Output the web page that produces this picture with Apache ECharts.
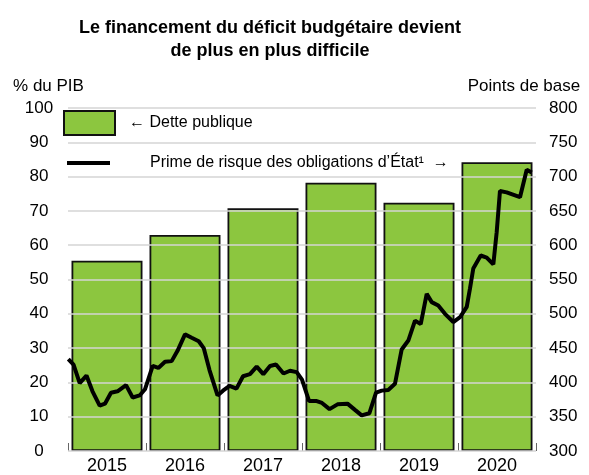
<!DOCTYPE html>
<html>
<head>
<meta charset="utf-8">
<script src="https://cdn.jsdelivr.net/npm/echarts@6/dist/echarts.min.js"></script>
<style>
html,body{margin:0;padding:0;background:#fff;}
#chart{width:589px;height:475px;}
</style>
</head>
<body>
<div id="chart"></div>
<script>
const titleText = 'Le financement du déficit budgétaire devient\nde plus en plus difficile';
const years = ['2015', '2016', '2017', '2018', '2019', '2020'];
const debtName = 'Dette publique';
const debtPctGDP = [55.5, 63.0, 70.8, 78.2, 72.4, 84.2];
const spreadName = 'Prime de risque des obligations d’État¹';
const spreadTime = [
  2015.004, 2015.071, 2015.150, 2015.237, 2015.314, 2015.406, 2015.474, 2015.551, 2015.635, 2015.744, 2015.829, 2015.919, 2015.987,
  2016.086, 2016.158, 2016.244, 2016.329, 2016.404, 2016.500, 2016.586, 2016.676, 2016.740, 2016.814, 2016.917, 2016.987,
  2017.071, 2017.160, 2017.244, 2017.333, 2017.419, 2017.504, 2017.590, 2017.667, 2017.763, 2017.846, 2017.932,
  2018.000, 2018.090, 2018.179, 2018.256, 2018.353, 2018.455, 2018.583, 2018.679, 2018.765, 2018.863, 2018.949,
  2019.022, 2019.106, 2019.192, 2019.278, 2019.363, 2019.449, 2019.522, 2019.599, 2019.663, 2019.747, 2019.833, 2019.940,
  2020.026, 2020.112, 2020.154, 2020.196, 2020.291, 2020.368, 2020.453, 2020.496, 2020.538, 2020.624, 2020.795, 2020.881, 2020.945
];
const spreadBp = [
  434, 426, 399, 410, 387, 366, 369, 385, 387, 396, 378, 381, 390,
  424, 421, 430, 431, 446, 470, 465, 460, 450, 418, 381, 388,
  395, 391, 409, 412, 423, 412, 424, 426, 413, 417, 415,
  404, 373, 373, 370, 361, 368, 369, 360, 352, 355, 385,
  388, 389, 398, 448, 461, 490, 485, 529, 517, 512, 500, 488,
  495, 510, 537, 566, 585, 582, 572, 619, 679, 677, 670, 710, 706
];
const leftTicks = {min: 0, max: 100, interval: 10};
const rightTicks = {min: 300, max: 800, interval: 50};
const leftAxisName = '% du PIB';
const rightAxisName = 'Points de base';

const FONT = '"Liberation Sans", Arial, sans-serif';
const chart = echarts.init(document.getElementById('chart'), null, {renderer: 'canvas'});
chart.setOption({
  animation: false,
  backgroundColor: '#fff',
  textStyle: {fontFamily: FONT},
  title: {
    text: titleText,
    left: 265,
    top: 12,
    textAlign: 'center',
    padding: 5,
    textStyle: {fontFamily: FONT, fontSize: 18, fontWeight: 'bold', color: '#000', lineHeight: 23}
  },
  legend: [
    {
      data: [debtName],
      left: 63, top: 110, padding: 0,
      icon: 'rect',
      itemWidth: 51, itemHeight: 24,
      formatter: '← {name}',
      textStyle: {fontFamily: FONT, fontSize: 16, color: '#000', padding: [0, 0, 0, 9]}
    },
    {
      data: [spreadName],
      left: 67, top: 155, padding: 0,
      icon: 'rect',
      itemWidth: 43, itemHeight: 4,
      formatter: '{name}  →',
      textStyle: {fontFamily: FONT, fontSize: 16, color: '#000', padding: [0, 0, 0, 35]}
    }
  ],
  grid: {left: 68, right: 53, top: 108, bottom: 20, containLabel: false},
  xAxis: [
    {
      type: 'category',
      data: years,
      boundaryGap: true,
      axisLine: {show: false},
      axisTick: {show: true, inside: true, length: 8, interval: 0, lineStyle: {color: '#666', width: 1}},
      axisLabel: {fontFamily: FONT, fontSize: 18, color: '#000', margin: 6},
      splitLine: {show: false}
    },
    {
      type: 'value',
      min: 2015, max: 2021,
      show: false
    }
  ],
  yAxis: [
    {
      type: 'value',
      position: 'left',
      min: leftTicks.min, max: leftTicks.max, interval: leftTicks.interval,
      name: leftAxisName,
      nameLocation: 'end',
      nameGap: 13,
      nameTextStyle: {fontFamily: FONT, fontSize: 17, color: '#000', align: 'center', padding: [0, 39, 0, 0]},
      axisLine: {show: false},
      axisTick: {show: false},
      axisLabel: {fontFamily: FONT, fontSize: 17, color: '#000', align: 'center', margin: 29},
      splitLine: {show: true, lineStyle: {color: '#d4d4d4', width: 1.5}},
      z: 3
    },
    {
      type: 'value',
      position: 'right',
      min: rightTicks.min, max: rightTicks.max, interval: rightTicks.interval,
      name: rightAxisName,
      nameLocation: 'end',
      nameGap: 13,
      nameTextStyle: {fontFamily: FONT, fontSize: 17, color: '#000', align: 'center', padding: [0, 24, 0, 0]},
      axisLine: {show: false},
      axisTick: {show: false},
      axisLabel: {fontFamily: FONT, fontSize: 17, color: '#000', margin: 13},
      splitLine: {show: false}
    }
  ],
  series: [
    {
      name: debtName,
      type: 'bar',
      xAxisIndex: 0, yAxisIndex: 0,
      data: debtPctGDP,
      barCategoryGap: '9%',
      itemStyle: {color: '#8cc63f', borderColor: '#111', borderWidth: 1.8},
      z: 2
    },
    {
      name: spreadName,
      type: 'line',
      xAxisIndex: 1, yAxisIndex: 1,
      data: spreadTime.map((t, i) => [t, spreadBp[i]]),
      showSymbol: false,
      symbol: 'none',
      lineStyle: {color: '#000', width: 4},
      itemStyle: {color: '#000'},
      z: 5
    }
  ]
});
</script>
</body>
</html>
